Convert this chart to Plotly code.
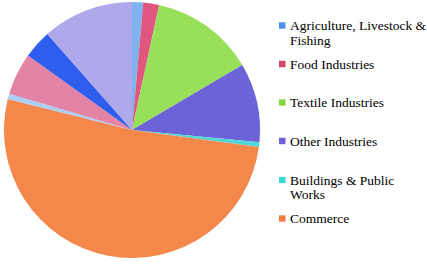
import plotly.graph_objects as go

# Data (slices clockwise from 12 o'clock)
categories = [
    "Agriculture, Livestock & Fishing",
    "Food Industries",
    "Textile Industries",
    "Other Industries",
    "Buildings & Public Works",
    "Commerce",
    "Category 7",
    "Category 8",
    "Category 9",
    "Category 10",
]
shares = [1.4, 2.0, 13.1, 10.0, 0.6, 51.7, 0.7, 5.3, 3.6, 11.5]

slice_colors = [
    "#7FB2F0", "#E0567F", "#98E05A", "#6C63D8", "#4FD6D6",
    "#F4874A", "#A9CFF5", "#E383A6", "#2F5EEE", "#AFA9EB",
]

# Legend shows the first six series only
legend_lines = [
    ["Agriculture, Livestock &", "Fishing"],
    ["Food Industries"],
    ["Textile Industries"],
    ["Other Industries"],
    ["Buildings & Public", "Works"],
    ["Commerce"],
]
legend_colors = ["#4A8FE8", "#D8456A", "#7FD83E", "#6A62DA", "#3FD8D8", "#F47A40"]

W, H = 427, 266

fig = go.Figure(go.Pie(
    labels=categories,
    values=shares,
    sort=False,
    direction="clockwise",
    rotation=0,
    textinfo="none",
    hoverinfo="label+percent",
    marker=dict(colors=slice_colors, line=dict(width=0)),
    domain=dict(x=[4 / W, 260 / W], y=[(H - 258) / H, (H - 2) / H]),
    showlegend=False,
))

entry_mid = [25.5, 64, 102.5, 141, 180, 218.5]  # pixel rows (first line middle)
line_gap = 15
shapes = []
annotations = []
for lines, col, py in zip(legend_lines, legend_colors, entry_mid):
    shapes.append(dict(
        type="rect", xref="paper", yref="paper",
        x0=279 / W, x1=285.5 / W, y0=(H - py - 3.2) / H, y1=(H - py + 3.2) / H,
        fillcolor=col, line=dict(width=0),
    ))
    for i, ln in enumerate(lines):
        yy = py + i * line_gap
        annotations.append(dict(
            xref="paper", yref="paper", x=288 / W, y=(H - yy) / H,
            xanchor="left", yanchor="middle", align="left", showarrow=False,
            text=ln, font=dict(family="Liberation Serif", size=13.5, color="#000000"),
        ))

fig.update_layout(
    width=W, height=H,
    margin=dict(l=0, r=0, t=0, b=0),
    paper_bgcolor="white", plot_bgcolor="white",
    shapes=shapes, annotations=annotations,
)

fig.write_html(
    "out.html",
    config={"displayModeBar": False},
    post_script="document.body.style.margin='0';",
)
